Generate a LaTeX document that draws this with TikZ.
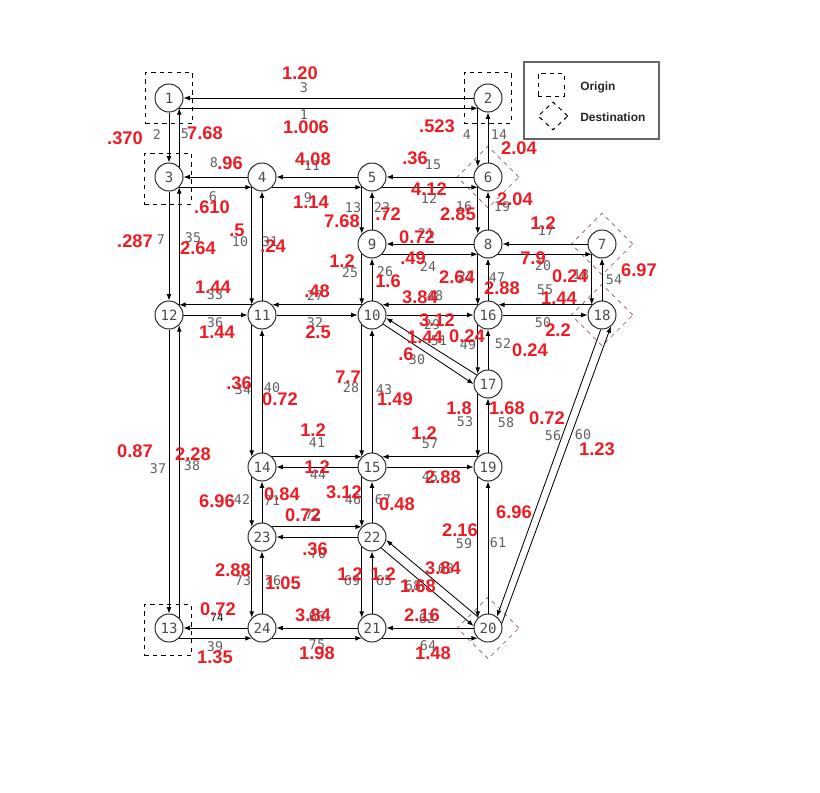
\documentclass[tikz,border=0pt]{standalone}
\usepackage{fontspec}
\setmainfont{Liberation Sans}
\newfontfamily\monofont{DejaVu Sans Mono}
\usetikzlibrary{arrows.meta,shapes.geometric}

\definecolor{flowred}{RGB}{237,28,36}
\definecolor{destpink}{RGB}{160,112,126}

\begin{document}
\begin{tikzpicture}[
  x=0.025cm, y=-0.025cm,
  stn/.style={circle, draw=black!85, fill=white, line width=0.7pt, minimum size=0.7cm, inner sep=0pt,
    font=\monofont\fontsize{10}{10}\selectfont, text=black!70},
  wire/.style={-{Latex[length=4.5pt,width=3.4pt]}, line width=0.6pt},
  linkno/.style={font=\monofont\fontsize{9.5}{9.5}\selectfont, text=black!62, inner sep=0pt},
  flow/.style={font=\bfseries\fontsize{13}{13}\selectfont, text=flowred, inner sep=0pt},
  origbox/.style={draw, dashed, line width=0.7pt, minimum width=1.175cm, minimum height=1.275cm, inner sep=0pt},
  destbox/.style={diamond, draw=destpink, dashed, line width=0.6pt, minimum width=1.55cm, minimum height=1.55cm, inner sep=0pt},
  legtext/.style={font=\bfseries\fontsize{8.5}{8.5}\selectfont, text=black!85, anchor=west, inner sep=0pt}
]
\fill[white] (0,0) rectangle (820,792);
\useasboundingbox (0,0) rectangle (820,792);

% origins and destinations
\node[origbox] (o1) at (169,98) {};
\node[origbox] (o2) at (487.5,98) {};
\node[origbox] (o3) at (168,178.5) {};
\node[origbox] (o13) at (168,630) {};
\node[destbox] (d6) at (488,177) {};
\node[destbox] (d7) at (602,244) {};
\node[destbox] (d18) at (602,315) {};
\node[destbox] (d20) at (488,628) {};

% legend
\draw[black!60, line width=0.9pt] (524,62) rectangle (659,139);
\node[draw, dashed, line width=0.7pt, minimum width=0.65cm, minimum height=0.575cm, inner sep=0pt] (key1) at (551,85) {};
\node[diamond, draw, dashed, line width=0.7pt, minimum width=0.75cm, minimum height=0.7cm, inner sep=0pt] (key2) at (553,116) {};
\node[legtext] (keytxt1) at (580,87) {Origin};
\node[legtext] (keytxt2) at (580,117) {Destination};

% stations
\node[stn] (n1) at (169,98) {1};
\node[stn] (n2) at (488,98) {2};
\node[stn] (n3) at (169,177) {3};
\node[stn] (n4) at (262,177) {4};
\node[stn] (n5) at (372,177) {5};
\node[stn] (n6) at (488,177) {6};
\node[stn] (n7) at (602,244) {7};
\node[stn] (n8) at (488,244) {8};
\node[stn] (n9) at (372,244) {9};
\node[stn] (n10) at (372,315) {10};
\node[stn] (n11) at (262,315) {11};
\node[stn] (n12) at (169,315) {12};
\node[stn] (n13) at (169,628) {13};
\node[stn] (n14) at (262,467) {14};
\node[stn] (n15) at (372,467) {15};
\node[stn] (n16) at (488,315) {16};
\node[stn] (n17) at (488,384) {17};
\node[stn] (n18) at (602,315) {18};
\node[stn] (n19) at (488,467) {19};
\node[stn] (n20) at (488,628) {20};
\node[stn] (n21) at (372,628) {21};
\node[stn] (n22) at (372,537) {22};
\node[stn] (n23) at (262,537) {23};
\node[stn] (n24) at (262,628) {24};

% horizontal links
\draw[wire] (n2.180) -- (n1.0);
\draw[wire] (n1.-45) -- (n2.-135);
\draw[wire] (n4.180) -- (n3.0);
\draw[wire] (n3.-45) -- (n4.-135);
\draw[wire] (n5.180) -- (n4.0);
\draw[wire] (n4.-45) -- (n5.-135);
\draw[wire] (n6.180) -- (n5.0);
\draw[wire] (n5.-45) -- (n6.-135);
\draw[wire] (n7.180) -- (n8.0);
\draw[wire] (n8.-45) -- (n7.-135);
\draw[wire] (n8.180) -- (n9.0);
\draw[wire] (n9.-45) -- (n8.-135);
\draw[wire] (n11.135) -- (n12.45);
\draw[wire] (n12.0) -- (n11.180);
\draw[wire] (n10.135) -- (n11.45);
\draw[wire] (n11.0) -- (n10.180);
\draw[wire] (n16.135) -- (n10.45);
\draw[wire] (n10.0) -- (n16.180);
\draw[wire] (n18.135) -- (n16.45);
\draw[wire] (n16.0) -- (n18.180);
\draw[wire] (n14.45) -- (n15.135);
\draw[wire] (n15.180) -- (n14.0);
\draw[wire] (n19.135) -- (n15.45);
\draw[wire] (n15.0) -- (n19.180);
\draw[wire] (n23.45) -- (n22.135);
\draw[wire] (n22.180) -- (n23.0);
\draw[wire] (n24.180) -- (n13.0);
\draw[wire] (n13.-45) -- (n24.-135);
\draw[wire] (n21.180) -- (n24.0);
\draw[wire] (n24.-45) -- (n21.-135);
\draw[wire] (n20.180) -- (n21.0);
\draw[wire] (n21.-45) -- (n20.-135);

% vertical links
\draw[wire] (n1.-90) -- (n3.90);
\draw[wire] (n3.45) -- (n1.-45);
\draw[wire] (n3.-90) -- (n12.90);
\draw[wire] (n12.45) -- (n3.-45);
\draw[wire] (n12.-90) -- (n13.90);
\draw[wire] (n13.45) -- (n12.-45);
\draw[wire] (n4.-135) -- (n11.135);
\draw[wire] (n11.90) -- (n4.-90);
\draw[wire] (n11.-135) -- (n14.135);
\draw[wire] (n14.90) -- (n11.-90);
\draw[wire] (n14.-135) -- (n23.135);
\draw[wire] (n23.90) -- (n14.-90);
\draw[wire] (n23.-135) -- (n24.135);
\draw[wire] (n24.90) -- (n23.-90);
\draw[wire] (n5.-135) -- (n9.135);
\draw[wire] (n9.90) -- (n5.-90);
\draw[wire] (n9.-135) -- (n10.135);
\draw[wire] (n10.90) -- (n9.-90);
\draw[wire] (n10.-135) -- (n15.135);
\draw[wire] (n15.90) -- (n10.-90);
\draw[wire] (n15.-135) -- (n22.135);
\draw[wire] (n22.90) -- (n15.-90);
\draw[wire] (n22.-135) -- (n21.135);
\draw[wire] (n21.90) -- (n22.-90);
\draw[wire] (n2.-135) -- (n6.135);
\draw[wire] (n6.90) -- (n2.-90);
\draw[wire] (n6.-135) -- (n8.135);
\draw[wire] (n8.90) -- (n6.-90);
\draw[wire] (n8.-135) -- (n16.135);
\draw[wire] (n16.90) -- (n8.-90);
\draw[wire] (n16.-135) -- (n17.135);
\draw[wire] (n17.90) -- (n16.-90);
\draw[wire] (n17.-135) -- (n19.135);
\draw[wire] (n19.90) -- (n17.-90);
\draw[wire] (n19.-135) -- (n20.135);
\draw[wire] (n20.90) -- (n19.-90);
\draw[wire] (n7.-135) -- (n18.135);
\draw[wire] (n18.90) -- (n7.-90);

% diagonal links
\draw[wire] (n17.141) -- (n10.-12);
\draw[wire] (n10.-39) -- (n17.180);
\draw[wire] (n20.132) -- (n22.-12);
\draw[wire] (n22.-50) -- (n20.172);
\draw[wire] (n18.-95) -- (n20.52);
\draw[wire] (n20.18) -- (n18.-52);

% link numbers
\node[linkno] (l1) at (304,115) {1};
\node[linkno] (l2) at (157,135) {2};
\node[linkno] (l3) at (304,88) {3};
\node[linkno] (l4) at (467,135) {4};
\node[linkno] (l5) at (185,134) {5};
\node[linkno] (l6) at (213,197) {6};
\node[linkno] (l7) at (161,240) {7};
\node[linkno] (l8) at (214,163) {8};
\node[linkno] (l9) at (308,198) {9};
\node[linkno] (l10) at (240,242) {10};
\node[linkno] (l11) at (312,166) {11};
\node[linkno] (l12) at (429,199) {12};
\node[linkno] (l13) at (353,208) {13};
\node[linkno] (l14) at (499,135) {14};
\node[linkno] (l15) at (433,165) {15};
\node[linkno] (l16) at (464,207) {16};
\node[linkno] (l17) at (546,231) {17};
\node[linkno] (l18) at (581,275) {18};
\node[linkno] (l19) at (502,207) {19};
\node[linkno] (l20) at (543,266) {20};
\node[linkno] (l21) at (426,234) {21};
\node[linkno] (l22) at (466,277) {22};
\node[linkno] (l23) at (382,208) {23};
\node[linkno] (l24) at (428,267) {24};
\node[linkno] (l25) at (350,273) {25};
\node[linkno] (l26) at (385,272) {26};
\node[linkno] (l27) at (315,296) {27};
\node[linkno] (l28) at (351,388) {28};
\node[linkno] (l29) at (432,325) {29};
\node[linkno] (l30) at (417,360) {30};
\node[linkno] (l31) at (270,242) {31};
\node[linkno] (l32) at (315,323) {32};
\node[linkno] (l33) at (215,295) {33};
\node[linkno] (l34) at (243,390) {34};
\node[linkno] (l35) at (193,238) {35};
\node[linkno] (l36) at (215,323) {36};
\node[linkno] (l37) at (158,469) {37};
\node[linkno] (l38) at (192,466) {38};
\node[linkno] (l39) at (215,647) {39};
\node[linkno] (l40) at (272,388) {40};
\node[linkno] (l41) at (317,443) {41};
\node[linkno] (l42) at (242,500) {42};
\node[linkno] (l43) at (384,390) {43};
\node[linkno] (l44) at (318,475) {44};
\node[linkno] (l45) at (430,477) {45};
\node[linkno] (l46) at (353,500) {46};
\node[linkno] (l47) at (497,278) {47};
\node[linkno] (l48) at (435,296) {48};
\node[linkno] (l49) at (468,345) {49};
\node[linkno] (l50) at (543,323) {50};
\node[linkno] (l51) at (439,341) {51};
\node[linkno] (l52) at (503,344) {52};
\node[linkno] (l53) at (465,422) {53};
\node[linkno] (l54) at (614,280) {54};
\node[linkno] (l55) at (545,290) {55};
\node[linkno] (l56) at (553,436) {56};
\node[linkno] (l57) at (430,444) {57};
\node[linkno] (l58) at (506,423) {58};
\node[linkno] (l59) at (464,544) {59};
\node[linkno] (l60) at (583,435) {60};
\node[linkno] (l61) at (498,543) {61};
\node[linkno] (l62) at (427,619) {62};
\node[linkno] (l63) at (446,569) {63};
\node[linkno] (l64) at (428,646) {64};
\node[linkno] (l65) at (384,581) {65};
\node[linkno] (l66) at (317,617) {66};
\node[linkno] (l67) at (383,500) {67};
\node[linkno] (l68) at (413,586) {68};
\node[linkno] (l69) at (352,581) {69};
\node[linkno] (l70) at (318,554) {70};
\node[linkno] (l71) at (272,501) {71};
\node[linkno] (l72) at (313,515) {72};
\node[linkno] (l73) at (243,581) {73};
\node[font=\fontsize{8}{8}\selectfont, inner sep=0pt] (l74) at (217,618) {74};
\node[linkno] (l75) at (317,645) {75};
\node[linkno] (l76) at (273,581) {76};

% flows
\node[flow] (f1) at (300,73) {1.20};
\node[flow] (f2) at (306,127) {1.006};
\node[flow] (f3) at (125,138) {.370};
\node[flow] (f4) at (205,133) {7.68};
\node[flow] (f5) at (437,126) {.523};
\node[flow] (f6) at (519,148) {2.04};
\node[flow] (f7) at (230,163) {.96};
\node[flow] (f8) at (313,159) {4.08};
\node[flow] (f9) at (415,158) {.36};
\node[flow] (f10) at (429,189) {4.12};
\node[flow] (f11) at (212,207) {.610};
\node[flow] (f12) at (311,202) {1.14};
\node[flow] (f13) at (342,221) {7.68};
\node[flow] (f14) at (388,214) {.72};
\node[flow] (f15) at (458,214) {2.85};
\node[flow] (f16) at (515,199) {2.04};
\node[flow] (f17) at (237,230) {.5};
\node[flow] (f18) at (135,241) {.287};
\node[flow] (f19) at (198,248) {2.64};
\node[flow] (f20) at (273,246) {.24};
\node[flow] (f21) at (417,237) {0.72};
\node[flow] (f22) at (543,223) {1.2};
\node[flow] (f23) at (342,261) {1.2};
\node[flow] (f24) at (413,258) {.49};
\node[flow] (f25) at (533,258) {7.9};
\node[flow] (f26) at (570,276) {0.24};
\node[flow] (f27) at (639,270) {6.97};
\node[flow] (f28) at (317,291) {.48};
\node[flow] (f29) at (388,281) {1.6};
\node[flow] (f30) at (457,277) {2.64};
\node[flow] (f31) at (502,288) {2.88};
\node[flow] (f32) at (420,297) {3.84};
\node[flow] (f33) at (559,298) {1.44};
\node[flow] (f34) at (213,287) {1.44};
\node[flow] (f35) at (217,332) {1.44};
\node[flow] (f36) at (318,332) {2.5};
\node[flow] (f37) at (437,320) {3.12};
\node[flow] (f38) at (425,337) {1.44};
\node[flow] (f39) at (467,336) {0.24};
\node[flow] (f40) at (558,330) {2.2};
\node[flow] (f41) at (530,350) {0.24};
\node[flow] (f42) at (406,354) {.6};
\node[flow] (f43) at (239,383) {.36};
\node[flow] (f44) at (280,399) {0.72};
\node[flow] (f45) at (348,377) {7.7};
\node[flow] (f46) at (395,399) {1.49};
\node[flow] (f47) at (459,408) {1.8};
\node[flow] (f48) at (507,408) {1.68};
\node[flow] (f49) at (547,418) {0.72};
\node[flow] (f50) at (597,449) {1.23};
\node[flow] (f51) at (135,451) {0.87};
\node[flow] (f52) at (193,454) {2.28};
\node[flow] (f53) at (313,430) {1.2};
\node[flow] (f54) at (424,433) {1.2};
\node[flow] (f55) at (317,467) {1.2};
\node[flow] (f56) at (443,477) {2.88};
\node[flow] (f57) at (344,492) {3.12};
\node[flow] (f58) at (217,501) {6.96};
\node[flow] (f59) at (282,494) {0.84};
\node[flow] (f60) at (397,504) {0.48};
\node[flow] (f61) at (303,515) {0.72};
\node[flow] (f62) at (514,512) {6.96};
\node[flow] (f63) at (460,530) {2.16};
\node[flow] (f64) at (315,549) {.36};
\node[flow] (f65) at (233,570) {2.88};
\node[flow] (f66) at (283,583) {1.05};
\node[flow] (f67) at (350,574) {1.2};
\node[flow] (f68) at (383,574) {1.2};
\node[flow] (f69) at (443,568) {3.84};
\node[flow] (f70) at (418,586) {1.68};
\node[flow] (f71) at (218,609) {0.72};
\node[flow] (f72) at (313,615) {3.84};
\node[flow] (f73) at (422,615) {2.16};
\node[flow] (f74) at (215,657) {1.35};
\node[flow] (f75) at (317,653) {1.98};
\node[flow] (f76) at (433,653) {1.48};
\end{tikzpicture}
\end{document}
